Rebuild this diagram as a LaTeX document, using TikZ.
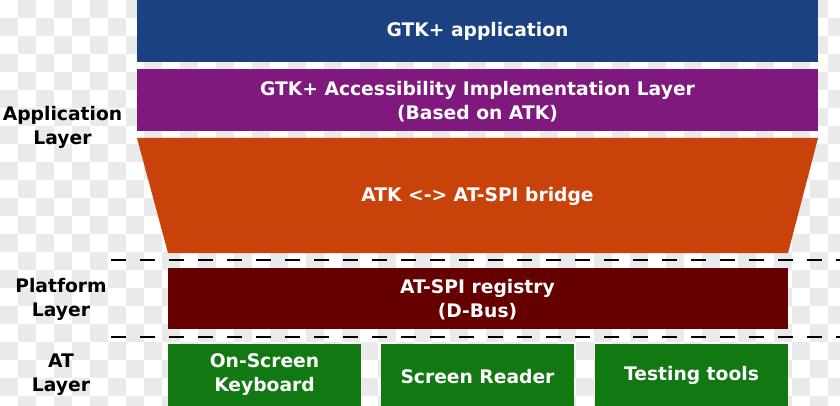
\documentclass[tikz,border=0pt]{standalone}
\usepackage{fontspec}
\setmainfont{DejaVu Sans}
\definecolor{cblue}{RGB}{28,65,128}
\definecolor{cpurple}{RGB}{128,25,125}
\definecolor{corange}{RGB}{200,66,10}
\definecolor{cdred}{RGB}{102,0,0}
\definecolor{cgreen}{RGB}{18,120,18}
\definecolor{cchk}{RGB}{234,234,234}
\tikzset{
  lbl/.style={font=\fontsize{18.7}{24}\selectfont\bfseries, text=white, align=center, inner sep=0pt},
  side/.style={font=\fontsize{18.7}{24}\selectfont\bfseries, text=black, align=center, inner sep=0pt},
  sep/.style={line width=2pt, dash pattern=on 15pt off 14pt, black},
}
\begin{document}
\begin{tikzpicture}[x=1pt,y=-1pt]
\useasboundingbox (0,0) rectangle (840,406);
\begin{scope}
\clip (0,0) rectangle (840,406);
\foreach \j in {0,...,22} {
  \pgfmathtruncatemacro\off{mod(\j,2)}
  \foreach \i in {0,...,23} {
    \fill[cchk] ({(1-\off)*18+\i*36}, {\j*18}) rectangle ++(18,18);
  }
}
\end{scope}
% boxes
\fill[cblue] (137,0) rectangle (818,62);
\node[lbl] (app) at (477.5,31.5) {GTK+ application};
\fill[cpurple] (137,69) rectangle (818,131);
\node[lbl] (impl) at (477.5,101.5) {GTK+ Accessibility Implementation Layer\\(Based on ATK)};
\fill[corange] (137,138) -- (818,138) -- (788,253) -- (168,253) -- cycle;
\node[lbl] (bridge) at (477.5,196.5) {ATK <-> AT-SPI bridge};
\fill[cdred] (168,268) rectangle (788,329);
\node[lbl] (reg) at (477.5,300) {AT-SPI registry\\(D-Bus)};
\fill[cgreen] (168,344) rectangle (361,406);
\fill[cgreen] (381,344) rectangle (574,406);
\fill[cgreen] (595,344) rectangle (788,406);
\node[lbl] (osk) at (264.5,375) {On-Screen\\Keyboard};
\node[lbl] (sr) at (477.5,377) {Screen Reader};
\node[lbl] (tt) at (691.5,375.5) {Testing tools};
% separators
\coordinate (s1a) at (111,260);
\coordinate (s1b) at (840,260);
\coordinate (s2a) at (111,337);
\coordinate (s2b) at (840,337);
\draw[sep] (s1a) -- (s1b);
\draw[sep] (s2a) -- (s2b);
% side labels
\node[side] (la) at (62.5,127) {Application\\Layer};
\node[side] (lp) at (61,299) {Platform\\Layer};
\node[side] (lat) at (61,375) {AT\\Layer};
\end{tikzpicture}
\end{document}
